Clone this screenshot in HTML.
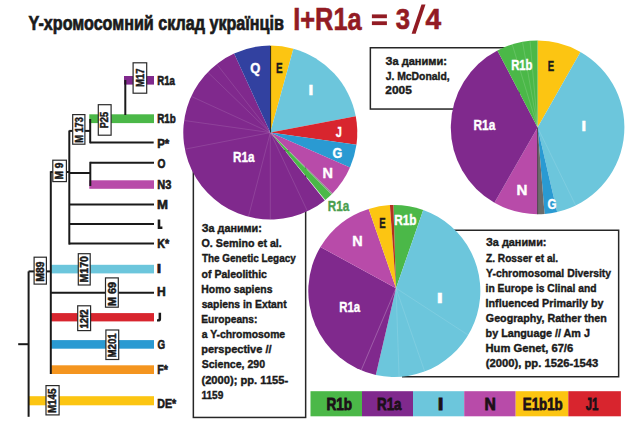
<!DOCTYPE html>
<html><head><meta charset="utf-8"><style>
html,body{margin:0;padding:0;background:#fff;width:640px;height:438px;overflow:hidden}
svg{display:block}
</style></head><body>
<svg width="640" height="438" viewBox="0 0 640 438">
<text x="28.58" y="29.8" font-size="19.5" fill="#1a1a1a" stroke="#1a1a1a" stroke-width="0.7" textLength="255.3" lengthAdjust="spacingAndGlyphs" font-family="Liberation Sans, sans-serif" font-weight="bold" >Y-хромосомний склад українців</text>
<text x="293.2" y="29.5" font-size="31" fill="#921b23" stroke="#921b23" stroke-width="0.6" textLength="68.44" lengthAdjust="spacingAndGlyphs" font-family="Liberation Sans, sans-serif" font-weight="bold" >I+R1a</text>
<rect x="371.9" y="14.4" width="15.00" height="3.80" fill="#921b23"/>
<rect x="371.9" y="21.3" width="15.00" height="3.80" fill="#921b23"/>
<text x="395.71" y="29.4" font-size="29" fill="#921b23" stroke="#921b23" stroke-width="0.6" textLength="14.32" lengthAdjust="spacingAndGlyphs" font-family="Liberation Sans, sans-serif" font-weight="bold" >3</text>
<polygon points="411.6,33.8 415.6,33.8 425.5,4.4 421.5,4.4" fill="#921b23"/>
<text x="425.47" y="29.4" font-size="29" fill="#921b23" stroke="#921b23" stroke-width="0.6" textLength="15.63" lengthAdjust="spacingAndGlyphs" font-family="Liberation Sans, sans-serif" font-weight="bold" >4</text>
<rect x="193.35" y="150.75" width="112.30" height="266.70" fill="#fff" stroke="#262626" stroke-width="1.5"/>
<rect x="370.35" y="47.75" width="148.90" height="61.30" fill="#fff" stroke="#262626" stroke-width="1.5"/>
<path d="M440,230.25 H618.65 V376.8 H402" fill="#fff" stroke="#262626" stroke-width="1.5"/>
<rect x="124" y="76" width="30.00" height="8.60" fill="#80298d"/><rect x="89.3" y="114.3" width="64.70" height="8.80" fill="#4bb848"/><rect x="89.3" y="180.3" width="64.70" height="8.50" fill="#b84ba9"/><rect x="50.8" y="264.8" width="103.20" height="8.60" fill="#6cc6dc"/><rect x="50.8" y="313.1" width="103.20" height="8.30" fill="#d8252e"/><rect x="50.8" y="340.1" width="103.20" height="8.60" fill="#2a9ad2"/><rect x="50.8" y="365.3" width="103.20" height="8.70" fill="#f4951f"/><rect x="28.6" y="396.2" width="125.40" height="9.10" fill="#fcc512"/><line x1="28.6" y1="271.4" x2="28.6" y2="416.8" stroke="#1a1a1a" stroke-width="2.0"/><line x1="18.2" y1="344.2" x2="28.6" y2="344.2" stroke="#1a1a1a" stroke-width="2.0"/><line x1="28.6" y1="271.4" x2="50.8" y2="271.4" stroke="#1a1a1a" stroke-width="2.0"/><line x1="50.8" y1="171.2" x2="50.8" y2="374" stroke="#1a1a1a" stroke-width="2.0"/><line x1="50.8" y1="172" x2="69.3" y2="172" stroke="#1a1a1a" stroke-width="2.0"/><line x1="69.3" y1="130.5" x2="69.3" y2="244.6" stroke="#1a1a1a" stroke-width="2.0"/><line x1="50.8" y1="292.8" x2="154" y2="292.8" stroke="#1a1a1a" stroke-width="2.0"/><line x1="69.3" y1="204.6" x2="154" y2="204.6" stroke="#1a1a1a" stroke-width="2.0"/><line x1="69.3" y1="223.9" x2="154" y2="223.9" stroke="#1a1a1a" stroke-width="2.0"/><line x1="69.3" y1="243.6" x2="154" y2="243.6" stroke="#1a1a1a" stroke-width="2.0"/><line x1="69.3" y1="173" x2="90.3" y2="173" stroke="#1a1a1a" stroke-width="2.0"/><line x1="90.3" y1="161.8" x2="90.3" y2="186" stroke="#1a1a1a" stroke-width="2.0"/><line x1="90.3" y1="162.8" x2="154" y2="162.8" stroke="#1a1a1a" stroke-width="2.0"/><line x1="69.3" y1="130.9" x2="90.2" y2="130.9" stroke="#1a1a1a" stroke-width="2.0"/><line x1="90.2" y1="119" x2="90.2" y2="143.3" stroke="#1a1a1a" stroke-width="2.0"/><line x1="90.2" y1="142.4" x2="153.7" y2="142.4" stroke="#1a1a1a" stroke-width="2.0"/><line x1="125.3" y1="80" x2="125.3" y2="115" stroke="#1a1a1a" stroke-width="2.0"/>
<rect x="133.10" y="62.80" width="13.60" height="30.40" fill="#fff" stroke="#2a2a2a" stroke-width="1.2"/>
<text x="-86.98" y="143.6" font-size="10.5" fill="#1a1a1a" stroke="#1a1a1a" stroke-width="0.5" textLength="18.35" lengthAdjust="spacingAndGlyphs" font-family="Liberation Sans, sans-serif" font-weight="bold" transform="rotate(-90)">M17</text>
<rect x="98.30" y="104.70" width="12.80" height="30.50" fill="#fff" stroke="#2a2a2a" stroke-width="1.2"/>
<text x="-128.37" y="108.4" font-size="10.5" fill="#1a1a1a" stroke="#1a1a1a" stroke-width="0.5" textLength="16.48" lengthAdjust="spacingAndGlyphs" font-family="Liberation Sans, sans-serif" font-weight="bold" transform="rotate(-90)">P25</text>
<rect x="72.70" y="114.60" width="12.20" height="29.60" fill="#fff" stroke="#2a2a2a" stroke-width="1.2"/>
<text x="-142.87" y="82.5" font-size="10.5" fill="#1a1a1a" stroke="#1a1a1a" stroke-width="0.5" textLength="25.65" lengthAdjust="spacingAndGlyphs" font-family="Liberation Sans, sans-serif" font-weight="bold" transform="rotate(-90)">M 173</text>
<rect x="52.80" y="160.20" width="13.60" height="21.40" fill="#fff" stroke="#2a2a2a" stroke-width="1.2"/>
<text x="-179.43" y="63.300000000000004" font-size="10.5" fill="#1a1a1a" stroke="#1a1a1a" stroke-width="0.5" textLength="16.96" lengthAdjust="spacingAndGlyphs" font-family="Liberation Sans, sans-serif" font-weight="bold" transform="rotate(-90)">M 9</text>
<rect x="34.10" y="257.20" width="12.30" height="26.90" fill="#fff" stroke="#2a2a2a" stroke-width="1.2"/>
<text x="-281.69" y="43.95" font-size="10.5" fill="#1a1a1a" stroke="#1a1a1a" stroke-width="0.5" textLength="20.13" lengthAdjust="spacingAndGlyphs" font-family="Liberation Sans, sans-serif" font-weight="bold" transform="rotate(-90)">M89</text>
<rect x="78.30" y="253.70" width="11.90" height="31.30" fill="#fff" stroke="#2a2a2a" stroke-width="1.2"/>
<text x="-282.46" y="87.95" font-size="10.5" fill="#1a1a1a" stroke="#1a1a1a" stroke-width="0.5" textLength="26.39" lengthAdjust="spacingAndGlyphs" font-family="Liberation Sans, sans-serif" font-weight="bold" transform="rotate(-90)">M170</text>
<rect x="105.50" y="277.90" width="12.80" height="29.30" fill="#fff" stroke="#2a2a2a" stroke-width="1.2"/>
<text x="-305.98" y="115.60000000000001" font-size="10.5" fill="#1a1a1a" stroke="#1a1a1a" stroke-width="0.5" textLength="24.13" lengthAdjust="spacingAndGlyphs" font-family="Liberation Sans, sans-serif" font-weight="bold" transform="rotate(-90)">M 69</text>
<rect x="77.70" y="305.80" width="12.90" height="24.80" fill="#fff" stroke="#2a2a2a" stroke-width="1.2"/>
<text x="-328.55" y="87.85000000000001" font-size="10.5" fill="#1a1a1a" stroke="#1a1a1a" stroke-width="0.5" textLength="19.08" lengthAdjust="spacingAndGlyphs" font-family="Liberation Sans, sans-serif" font-weight="bold" transform="rotate(-90)">12f2</text>
<rect x="105.90" y="330.00" width="12.80" height="29.50" fill="#fff" stroke="#2a2a2a" stroke-width="1.2"/>
<text x="-357.49" y="116.0" font-size="10.5" fill="#1a1a1a" stroke="#1a1a1a" stroke-width="0.5" textLength="24.11" lengthAdjust="spacingAndGlyphs" font-family="Liberation Sans, sans-serif" font-weight="bold" transform="rotate(-90)">M201</text>
<rect x="46.00" y="385.60" width="13.10" height="29.30" fill="#fff" stroke="#2a2a2a" stroke-width="1.2"/>
<text x="-413.11" y="56.25" font-size="10.5" fill="#1a1a1a" stroke="#1a1a1a" stroke-width="0.5" textLength="24.63" lengthAdjust="spacingAndGlyphs" font-family="Liberation Sans, sans-serif" font-weight="bold" transform="rotate(-90)">M145</text>
<text x="157.26" y="84.8" font-size="12.7" fill="#1a1a1a" stroke="#1a1a1a" stroke-width="0.6" textLength="17.68" lengthAdjust="spacingAndGlyphs" font-family="Liberation Sans, sans-serif" font-weight="bold" >R1a</text>
<text x="157.24" y="122.7" font-size="12.7" fill="#1a1a1a" stroke="#1a1a1a" stroke-width="0.6" textLength="18.61" lengthAdjust="spacingAndGlyphs" font-family="Liberation Sans, sans-serif" font-weight="bold" >R1b</text>
<text x="157.14" y="147.75" font-size="12.7" fill="#1a1a1a" stroke="#1a1a1a" stroke-width="0.6" textLength="12.08" lengthAdjust="spacingAndGlyphs" font-family="Liberation Sans, sans-serif" font-weight="bold" >P*</text>
<text x="157.48" y="167.9" font-size="12.7" fill="#1a1a1a" stroke="#1a1a1a" stroke-width="0.6" textLength="7.95" lengthAdjust="spacingAndGlyphs" font-family="Liberation Sans, sans-serif" font-weight="bold" >O</text>
<text x="157.16" y="189.3" font-size="12.7" fill="#1a1a1a" stroke="#1a1a1a" stroke-width="0.6" textLength="14.14" lengthAdjust="spacingAndGlyphs" font-family="Liberation Sans, sans-serif" font-weight="bold" >N3</text>
<text x="157.02" y="209.4" font-size="12.7" fill="#1a1a1a" stroke="#1a1a1a" stroke-width="0.6" textLength="10.96" lengthAdjust="spacingAndGlyphs" font-family="Liberation Sans, sans-serif" font-weight="bold" >M</text>
<path d="M157.7,219.5 H160.3 V226.5 H162.4 V228.9 H157.7 Z" fill="#1a1a1a"/>
<text x="157.18" y="247.7" font-size="12.7" fill="#1a1a1a" stroke="#1a1a1a" stroke-width="0.6" textLength="12.04" lengthAdjust="spacingAndGlyphs" font-family="Liberation Sans, sans-serif" font-weight="bold" >K*</text>
<text x="156.83" y="273.4" font-size="12.7" fill="#1a1a1a" stroke="#1a1a1a" stroke-width="0.6" textLength="4.44" lengthAdjust="spacingAndGlyphs" font-family="Liberation Sans, sans-serif" font-weight="bold" >I</text>
<text x="157.09" y="295.8" font-size="12.7" fill="#1a1a1a" stroke="#1a1a1a" stroke-width="0.6" textLength="8.72" lengthAdjust="spacingAndGlyphs" font-family="Liberation Sans, sans-serif" font-weight="bold" >H</text>
<path d="M158.6,312.7 H161.1 V318.9 Q161.1,321.5 158.3,321.5 H157 V319.3 H157.9 Q158.6,319.3 158.6,318.5 Z" fill="#1a1a1a"/>
<text x="157.5" y="349" font-size="12.7" fill="#1a1a1a" stroke="#1a1a1a" stroke-width="0.6" textLength="7.61" lengthAdjust="spacingAndGlyphs" font-family="Liberation Sans, sans-serif" font-weight="bold" >G</text>
<text x="157.19" y="374.2" font-size="12.7" fill="#1a1a1a" stroke="#1a1a1a" stroke-width="0.6" textLength="10.62" lengthAdjust="spacingAndGlyphs" font-family="Liberation Sans, sans-serif" font-weight="bold" >F*</text>
<text x="157.18" y="407.6" font-size="12.7" fill="#1a1a1a" stroke="#1a1a1a" stroke-width="0.6" textLength="19.03" lengthAdjust="spacingAndGlyphs" font-family="Liberation Sans, sans-serif" font-weight="bold" >DE*</text>
<path d="M270.30,132.60L270.30,45.60A87,87 0 0 1 293.40,48.72Z" fill="#fcc512"/><path d="M270.30,132.60L293.40,48.72A87,87 0 0 1 355.76,116.30Z" fill="#6cc6dc"/><path d="M270.30,132.60L355.76,116.30A87,87 0 0 1 356.45,144.71Z" fill="#d8252e"/><path d="M270.30,132.60L356.45,144.71A87,87 0 0 1 349.96,167.57Z" fill="#2a9ad2"/><path d="M270.30,132.60L349.96,167.57A87,87 0 0 1 332.46,193.47Z" fill="#b84ba9"/><path d="M270.30,132.60L332.46,193.47A87,87 0 0 1 331.39,194.55Z" fill="#8c9c8c"/><path d="M270.30,132.60L331.39,194.55A87,87 0 0 1 325.29,200.02Z" fill="#4bb848"/><path d="M270.30,132.60L324.81,200.40A87,87 0 1 1 234.08,53.50Z" fill="#80298d"/><path d="M270.30,132.60L234.08,53.50A87,87 0 0 1 270.30,45.60Z" fill="#3241a0"/><line x1="270.3" y1="132.6" x2="307.27" y2="210.80" stroke="#ffffff" stroke-opacity="0.15" stroke-width="0.8"/><line x1="270.3" y1="132.6" x2="270.30" y2="219.10" stroke="#ffffff" stroke-opacity="0.15" stroke-width="0.8"/><line x1="270.3" y1="132.6" x2="248.50" y2="216.31" stroke="#ffffff" stroke-opacity="0.15" stroke-width="0.8"/><line x1="270.3" y1="132.6" x2="185.39" y2="149.10" stroke="#ffffff" stroke-opacity="0.15" stroke-width="0.8"/><line x1="270.3" y1="132.6" x2="184.64" y2="120.56" stroke="#ffffff" stroke-opacity="0.15" stroke-width="0.8"/><line x1="270.3" y1="132.6" x2="191.65" y2="96.59" stroke="#ffffff" stroke-opacity="0.15" stroke-width="0.8"/><line x1="270.3" y1="132.6" x2="208.08" y2="72.51" stroke="#ffffff" stroke-opacity="0.15" stroke-width="0.8"/><line x1="270.3" y1="132.6" x2="217.05" y2="64.44" stroke="#ffffff" stroke-opacity="0.15" stroke-width="0.8"/><line x1="270.6" y1="46" x2="270.6" y2="132.6" stroke="#111" stroke-width="0.9"/><text x="250.27" y="72.5" font-size="15" fill="#fff" stroke="#fff" stroke-width="0.4" textLength="10.08" lengthAdjust="spacingAndGlyphs" font-family="Liberation Sans, sans-serif" font-weight="bold" >Q</text><text x="276.03" y="72.5" font-size="15" fill="#1a1a1a" stroke="#1a1a1a" stroke-width="0.4" textLength="6.66" lengthAdjust="spacingAndGlyphs" font-family="Liberation Sans, sans-serif" font-weight="bold" >E</text><text x="308.25" y="95" font-size="15" fill="#fff" stroke="#fff" stroke-width="0.4" textLength="5.21" lengthAdjust="spacingAndGlyphs" font-family="Liberation Sans, sans-serif" font-weight="bold" >I</text><text x="335.83" y="137" font-size="15" fill="#fff" stroke="#fff" stroke-width="0.4" textLength="6.12" lengthAdjust="spacingAndGlyphs" font-family="Liberation Sans, sans-serif" font-weight="bold" >J</text><text x="332.48" y="157.8" font-size="15" fill="#fff" stroke="#fff" stroke-width="0.4" textLength="9.8" lengthAdjust="spacingAndGlyphs" font-family="Liberation Sans, sans-serif" font-weight="bold" >G</text><text x="322.43" y="177.6" font-size="15" fill="#fff" stroke="#fff" stroke-width="0.4" textLength="10.44" lengthAdjust="spacingAndGlyphs" font-family="Liberation Sans, sans-serif" font-weight="bold" >N</text><text x="233.02" y="162.3" font-size="15" fill="#fff" stroke="#fff" stroke-width="0.4" textLength="21.51" lengthAdjust="spacingAndGlyphs" font-family="Liberation Sans, sans-serif" font-weight="bold" >R1a</text><text x="327.72" y="211.1" font-size="15" fill="#4a9e4e" stroke="#4a9e4e" stroke-width="0.4" textLength="21.41" lengthAdjust="spacingAndGlyphs" font-family="Liberation Sans, sans-serif" font-weight="bold" >R1a</text><path d="M537.60,127.40L537.60,40.60A86.8,86.8 0 0 1 580.47,51.93Z" fill="#fcc512"/><path d="M537.60,127.40L580.47,51.93A86.8,86.8 0 0 1 557.13,211.98Z" fill="#6cc6dc"/><path d="M537.60,127.40L557.13,211.98A86.8,86.8 0 0 1 544.56,213.92Z" fill="#2a9ad2"/><path d="M537.60,127.40L544.56,213.92A86.8,86.8 0 0 1 537.60,214.20Z" fill="#6b6b6b"/><path d="M537.60,127.40L537.60,214.20A86.8,86.8 0 0 1 494.46,202.72Z" fill="#b84ba9"/><path d="M537.60,127.40L494.46,202.72A86.8,86.8 0 0 1 497.39,50.48Z" fill="#80298d"/><path d="M537.60,127.40L497.39,50.48A86.8,86.8 0 0 1 537.60,40.60Z" fill="#4bb848"/><line x1="537.6" y1="127.4" x2="575.43" y2="204.97" stroke="#ffffff" stroke-opacity="0.15" stroke-width="0.8"/><line x1="537.6" y1="127.4" x2="537.6" y2="214.2" stroke="#333" stroke-width="0.8"/><line x1="537.6" y1="127.4" x2="512.37" y2="44.87" stroke="#ffffff" stroke-opacity="0.18" stroke-width="0.8"/><line x1="537.6" y1="127.4" x2="522.61" y2="42.41" stroke="#ffffff" stroke-opacity="0.18" stroke-width="0.8"/><line x1="537.6" y1="127.4" x2="530.08" y2="41.43" stroke="#ffffff" stroke-opacity="0.18" stroke-width="0.8"/><text x="511.15" y="70" font-size="15" fill="#fff" stroke="#fff" stroke-width="0.4" textLength="21.32" lengthAdjust="spacingAndGlyphs" font-family="Liberation Sans, sans-serif" font-weight="bold" >R1b</text><text x="547.76" y="71" font-size="15" fill="#1a1a1a" stroke="#1a1a1a" stroke-width="0.4" textLength="6.42" lengthAdjust="spacingAndGlyphs" font-family="Liberation Sans, sans-serif" font-weight="bold" >E</text><text x="473.5" y="129.6" font-size="15" fill="#fff" stroke="#fff" stroke-width="0.4" textLength="21.82" lengthAdjust="spacingAndGlyphs" font-family="Liberation Sans, sans-serif" font-weight="bold" >R1a</text><text x="581.39" y="131" font-size="15" fill="#fff" stroke="#fff" stroke-width="0.4" textLength="5.01" lengthAdjust="spacingAndGlyphs" font-family="Liberation Sans, sans-serif" font-weight="bold" >I</text><text x="516.49" y="194.5" font-size="15" fill="#fff" stroke="#fff" stroke-width="0.4" textLength="10.93" lengthAdjust="spacingAndGlyphs" font-family="Liberation Sans, sans-serif" font-weight="bold" >N</text><text x="547.43" y="208.5" font-size="15" fill="#fff" stroke="#fff" stroke-width="0.4" textLength="8.99" lengthAdjust="spacingAndGlyphs" font-family="Liberation Sans, sans-serif" font-weight="bold" >G</text><path d="M396.00,288.20L393.39,205.00A86,86 0 0 1 423.23,210.01Z" fill="#4bb848"/><path d="M396.00,288.20L423.23,210.01A86,86 0 0 1 375.80,374.99Z" fill="#6cc6dc"/><path d="M396.00,288.20L375.80,374.99A86,86 0 0 1 320.41,246.99Z" fill="#80298d"/><path d="M396.00,288.20L320.41,246.99A86,86 0 0 1 368.69,208.90Z" fill="#b84ba9"/><path d="M396.00,288.20L368.69,208.90A86,86 0 0 1 389.90,205.11Z" fill="#fcc512"/><path d="M396.00,288.20L389.90,205.11A86,86 0 0 1 393.39,205.00Z" fill="#b3301f"/><line x1="396" y1="288.2" x2="467.74" y2="334.79" stroke="#ffffff" stroke-opacity="0.15" stroke-width="0.8"/><line x1="396" y1="288.2" x2="424.51" y2="370.99" stroke="#ffffff" stroke-opacity="0.15" stroke-width="0.8"/><line x1="396" y1="288.2" x2="399.08" y2="376.37" stroke="#ffffff" stroke-opacity="0.15" stroke-width="0.8"/><line x1="396" y1="288.2" x2="361.33" y2="369.89" stroke="#ffffff" stroke-opacity="0.3" stroke-width="0.8"/><text x="352.33" y="245.9" font-size="15" fill="#fff" stroke="#fff" stroke-width="0.4" textLength="10.44" lengthAdjust="spacingAndGlyphs" font-family="Liberation Sans, sans-serif" font-weight="bold" >N</text><text x="379.26" y="228.1" font-size="15" fill="#1a1a1a" stroke="#1a1a1a" stroke-width="0.4" textLength="6.42" lengthAdjust="spacingAndGlyphs" font-family="Liberation Sans, sans-serif" font-weight="bold" >E</text><text x="394.21" y="225" font-size="15" fill="#fff" stroke="#fff" stroke-width="0.4" textLength="22.33" lengthAdjust="spacingAndGlyphs" font-family="Liberation Sans, sans-serif" font-weight="bold" >R1b</text><text x="339.19" y="312.2" font-size="15" fill="#fff" stroke="#fff" stroke-width="0.4" textLength="20.94" lengthAdjust="spacingAndGlyphs" font-family="Liberation Sans, sans-serif" font-weight="bold" >R1a</text><text x="436.42" y="303.4" font-size="15" fill="#fff" stroke="#fff" stroke-width="0.4" textLength="6.56" lengthAdjust="spacingAndGlyphs" font-family="Liberation Sans, sans-serif" font-weight="bold" >I</text>
<text x="201.76" y="232.2" font-size="11.2" fill="#1a1a1a" stroke="#1a1a1a" stroke-width="0.4" textLength="60.08" lengthAdjust="spacingAndGlyphs" font-family="Liberation Sans, sans-serif" font-weight="bold" >За даними:</text>
<text x="201.56" y="247.34" font-size="11.2" fill="#1a1a1a" stroke="#1a1a1a" stroke-width="0.4" textLength="80.28" lengthAdjust="spacingAndGlyphs" font-family="Liberation Sans, sans-serif" font-weight="bold" >O. Semino et al.</text>
<text x="201.89" y="262.48" font-size="11.2" fill="#1a1a1a" stroke="#1a1a1a" stroke-width="0.4" textLength="93.86" lengthAdjust="spacingAndGlyphs" font-family="Liberation Sans, sans-serif" font-weight="bold" >The Genetic Legacy</text>
<text x="201.59" y="277.62" font-size="11.2" fill="#1a1a1a" stroke="#1a1a1a" stroke-width="0.4" textLength="65.32" lengthAdjust="spacingAndGlyphs" font-family="Liberation Sans, sans-serif" font-weight="bold" >of Paleolithic</text>
<text x="201.3" y="292.76" font-size="11.2" fill="#1a1a1a" stroke="#1a1a1a" stroke-width="0.4" textLength="71.12" lengthAdjust="spacingAndGlyphs" font-family="Liberation Sans, sans-serif" font-weight="bold" >Homo sapiens</text>
<text x="201.64" y="307.9" font-size="11.2" fill="#1a1a1a" stroke="#1a1a1a" stroke-width="0.4" textLength="84.99" lengthAdjust="spacingAndGlyphs" font-family="Liberation Sans, sans-serif" font-weight="bold" >sapiens in Extant</text>
<text x="201.32" y="323.04" font-size="11.2" fill="#1a1a1a" stroke="#1a1a1a" stroke-width="0.4" textLength="56.06" lengthAdjust="spacingAndGlyphs" font-family="Liberation Sans, sans-serif" font-weight="bold" >Europeans:</text>
<text x="201.7" y="338.18" font-size="11.2" fill="#1a1a1a" stroke="#1a1a1a" stroke-width="0.4" textLength="83.45" lengthAdjust="spacingAndGlyphs" font-family="Liberation Sans, sans-serif" font-weight="bold" >a Y-chromosome</text>
<text x="201.28" y="353.32" font-size="11.2" fill="#1a1a1a" stroke="#1a1a1a" stroke-width="0.4" textLength="70.23" lengthAdjust="spacingAndGlyphs" font-family="Liberation Sans, sans-serif" font-weight="bold" >perspective //</text>
<text x="201.7" y="368.46" font-size="11.2" fill="#1a1a1a" stroke="#1a1a1a" stroke-width="0.4" textLength="63.34" lengthAdjust="spacingAndGlyphs" font-family="Liberation Sans, sans-serif" font-weight="bold" >Science, 290</text>
<text x="201.45" y="383.6" font-size="11.2" fill="#1a1a1a" stroke="#1a1a1a" stroke-width="0.4" textLength="86.8" lengthAdjust="spacingAndGlyphs" font-family="Liberation Sans, sans-serif" font-weight="bold" >(2000); pp. 1155-</text>
<text x="201.38" y="398.74" font-size="11.2" fill="#1a1a1a" stroke="#1a1a1a" stroke-width="0.4" textLength="21.88" lengthAdjust="spacingAndGlyphs" font-family="Liberation Sans, sans-serif" font-weight="bold" >1159</text>
<text x="385.55" y="65.4" font-size="11.2" fill="#1a1a1a" stroke="#1a1a1a" stroke-width="0.4" textLength="61.41" lengthAdjust="spacingAndGlyphs" font-family="Liberation Sans, sans-serif" font-weight="bold" >За даними:</text>
<text x="385.64" y="79.8" font-size="11.2" fill="#1a1a1a" stroke="#1a1a1a" stroke-width="0.4" textLength="64.05" lengthAdjust="spacingAndGlyphs" font-family="Liberation Sans, sans-serif" font-weight="bold" >J. McDonald,</text>
<text x="385.39" y="94.4" font-size="11.2" fill="#1a1a1a" stroke="#1a1a1a" stroke-width="0.4" textLength="26.44" lengthAdjust="spacingAndGlyphs" font-family="Liberation Sans, sans-serif" font-weight="bold" >2005</text>
<text x="486.06" y="246.4" font-size="11.2" fill="#1a1a1a" stroke="#1a1a1a" stroke-width="0.4" textLength="60.39" lengthAdjust="spacingAndGlyphs" font-family="Liberation Sans, sans-serif" font-weight="bold" >За даними:</text>
<text x="486.0" y="261.52" font-size="11.2" fill="#1a1a1a" stroke="#1a1a1a" stroke-width="0.4" textLength="72.2" lengthAdjust="spacingAndGlyphs" font-family="Liberation Sans, sans-serif" font-weight="bold" >Z. Rosser et al.</text>
<text x="486.12" y="276.64" font-size="11.2" fill="#1a1a1a" stroke="#1a1a1a" stroke-width="0.4" textLength="125.03" lengthAdjust="spacingAndGlyphs" font-family="Liberation Sans, sans-serif" font-weight="bold" >Y-chromosomal Diversity</text>
<text x="485.58" y="291.76" font-size="11.2" fill="#1a1a1a" stroke="#1a1a1a" stroke-width="0.4" textLength="110.9" lengthAdjust="spacingAndGlyphs" font-family="Liberation Sans, sans-serif" font-weight="bold" >in Europe is Clinal and</text>
<text x="485.58" y="306.88" font-size="11.2" fill="#1a1a1a" stroke="#1a1a1a" stroke-width="0.4" textLength="117.87" lengthAdjust="spacingAndGlyphs" font-family="Liberation Sans, sans-serif" font-weight="bold" >Influenced Primarily by</text>
<text x="485.86" y="322.0" font-size="11.2" fill="#1a1a1a" stroke="#1a1a1a" stroke-width="0.4" textLength="120.99" lengthAdjust="spacingAndGlyphs" font-family="Liberation Sans, sans-serif" font-weight="bold" >Geography, Rather then</text>
<text x="485.59" y="337.12" font-size="11.2" fill="#1a1a1a" stroke="#1a1a1a" stroke-width="0.4" textLength="104.34" lengthAdjust="spacingAndGlyphs" font-family="Liberation Sans, sans-serif" font-weight="bold" >by Language // Am J</text>
<text x="485.55" y="352.24" font-size="11.2" fill="#1a1a1a" stroke="#1a1a1a" stroke-width="0.4" textLength="87.65" lengthAdjust="spacingAndGlyphs" font-family="Liberation Sans, sans-serif" font-weight="bold" >Hum Genet, 67/6</text>
<text x="485.74" y="367.36" font-size="11.2" fill="#1a1a1a" stroke="#1a1a1a" stroke-width="0.4" textLength="112.57" lengthAdjust="spacingAndGlyphs" font-family="Liberation Sans, sans-serif" font-weight="bold" >(2000), pp. 1526-1543</text>
<rect x="310.5" y="391.2" width="51.50" height="25.10" fill="#4bb848"/>
<text x="326.49" y="409.5" font-size="16.5" fill="#1c1018" stroke="#1c1018" stroke-width="0.8" textLength="25.67" lengthAdjust="spacingAndGlyphs" font-family="Liberation Sans, sans-serif" font-weight="bold" >R1b</text>
<rect x="362" y="391.2" width="51.00" height="25.10" fill="#80298d"/>
<text x="377.01" y="409.5" font-size="16.5" fill="#1c1018" stroke="#1c1018" stroke-width="0.8" textLength="24.51" lengthAdjust="spacingAndGlyphs" font-family="Liberation Sans, sans-serif" font-weight="bold" >R1a</text>
<rect x="413" y="391.2" width="51.20" height="25.10" fill="#6cc6dc"/>
<text x="437.78" y="409.5" font-size="16.5" fill="#1c1018" stroke="#1c1018" stroke-width="0.8" textLength="5.69" lengthAdjust="spacingAndGlyphs" font-family="Liberation Sans, sans-serif" font-weight="bold" >I</text>
<rect x="464.2" y="391.2" width="51.50" height="25.10" fill="#b84ba9"/>
<text x="484.55" y="409.5" font-size="16.5" fill="#1c1018" stroke="#1c1018" stroke-width="0.8" textLength="11.3" lengthAdjust="spacingAndGlyphs" font-family="Liberation Sans, sans-serif" font-weight="bold" >N</text>
<rect x="515.7" y="391.2" width="52.60" height="25.10" fill="#fcc512"/>
<text x="522.81" y="409.5" font-size="16.5" fill="#1c1018" stroke="#1c1018" stroke-width="0.8" textLength="39.94" lengthAdjust="spacingAndGlyphs" font-family="Liberation Sans, sans-serif" font-weight="bold" >E1b1b</text>
<rect x="568.3" y="391.2" width="52.60" height="25.10" fill="#d8252e"/>
<text x="585.73" y="409.5" font-size="16.5" fill="#1c1018" stroke="#1c1018" stroke-width="0.8" textLength="12.59" lengthAdjust="spacingAndGlyphs" font-family="Liberation Sans, sans-serif" font-weight="bold" >J1</text>
</svg>
</body></html>
